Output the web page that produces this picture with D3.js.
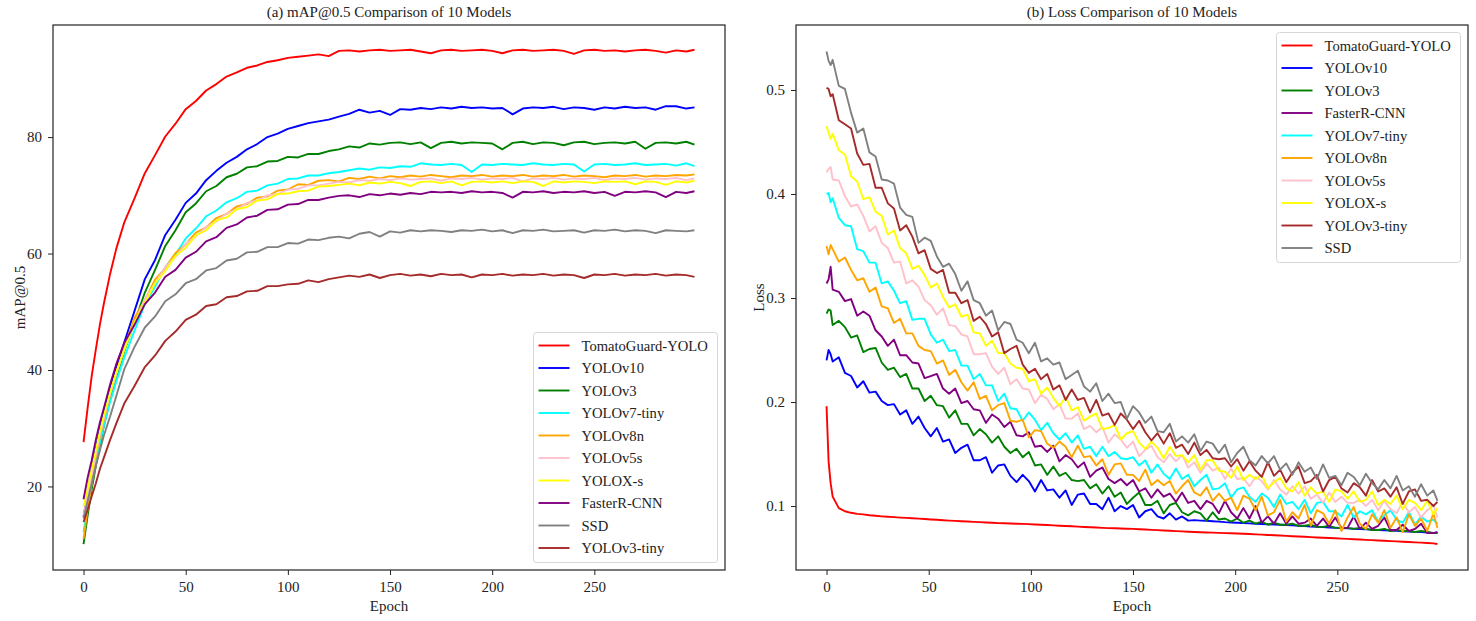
<!DOCTYPE html>
<html>
<head>
<meta charset="utf-8">
<title>mAP@0.5 and Loss Comparison of 10 Models</title>
<script src="https://d3js.org/d3.v7.min.js" charset="utf-8"></script>
<style>
  body { margin: 0; background: #fff; }
  svg { display: block; font-family: "Liberation Serif", "Times New Roman", serif; }
  .tick text { font-family: "Liberation Serif", "Times New Roman", serif; font-size: 15px; fill: #222; }
  .tick line { stroke: #222; }
  .axis-label, .panel-title { font-size: 15px; fill: #222; }
  .legend text { font-size: 14.6px; fill: #222; }
</style>
</head>
<body>
<svg id="chart" width="1476" height="621"></svg>
<script>
// sampled epochs (x values) for each panel
const mapEpochs = [0, 2, 4, 6, 8, 10, 13, 16,
  20, 25, 30, 35, 40, 45, 50, 55, 60, 65,
  70, 75, 80, 85, 90, 95, 100, 105, 110, 115,
  120, 125, 130, 135, 140, 145, 150, 155, 160, 165,
  170, 175, 180, 185, 190, 195, 200, 205, 210, 215,
  220, 225, 230, 235, 240, 245, 250, 255, 260, 265,
  270, 275, 280, 285, 290, 295, 299];
const lossEpochs = [0, 1, 2, 3, 6, 9, 12, 15, 18, 21,
  24, 27, 30, 33, 36, 39, 42, 45, 48, 51,
  54, 57, 60, 63, 66, 69, 72, 75, 78, 81,
  84, 87, 90, 93, 96, 99, 102, 105, 108, 111,
  114, 117, 120, 123, 126, 129, 132, 135, 138, 141,
  144, 147, 150, 153, 156, 159, 162, 165, 168, 171,
  174, 177, 180, 183, 186, 189, 192, 195, 198, 201,
  204, 207, 210, 213, 216, 219, 222, 225, 228, 231,
  234, 237, 240, 243, 246, 249, 252, 255, 258, 261,
  264, 267, 270, 273, 276, 279, 282, 285, 288, 291,
  294, 297, 299];

const mapModels = ["TomatoGuard-YOLO", "YOLOv10", "YOLOv3", "YOLOv7-tiny", "YOLOv8n",
  "YOLOv5s", "YOLOX-s", "FasterR-CNN", "SSD", "YOLOv3-tiny"];
const lossModels = ["TomatoGuard-YOLO", "YOLOv10", "YOLOv3", "FasterR-CNN", "YOLOv7-tiny",
  "YOLOv8n", "YOLOv5s", "YOLOX-s", "YOLOv3-tiny", "SSD"];

const epochTicks = [0, 50, 100, 150, 200, 250];
const mapTicks = [20, 40, 60, 80];
const lossTicks = [0.1, 0.2, 0.3, 0.4, 0.5];

// ---- mAP@0.5 ----
const mapTomatoGuard = [27.6, 33.5, 39.0, 43.5, 47.8, 51.5, 56.5, 60.8,
  65.4, 69.5, 73.8, 76.9, 80.1, 82.3, 84.8, 86.2, 88.0, 89.1,
  90.4, 91.1, 91.9, 92.3, 92.9, 93.2, 93.6, 93.8, 94.0, 94.2,
  93.9, 94.8, 94.9, 94.7, 94.9, 95.0, 94.8, 94.9, 95.0, 94.7,
  94.4, 94.9, 95.0, 94.8, 94.9, 95.0, 94.8, 94.4, 94.9, 95.0,
  94.8, 94.9, 95.0, 94.8, 94.3, 94.9, 95.0, 94.8, 94.9, 94.7,
  94.9, 95.0, 94.8, 94.5, 94.9, 94.7, 95.0];
const mapYOLOv10 = [14.8, 19.0, 23.0, 26.5, 30.0, 32.8, 37.0, 40.5,
  44.8, 50.2, 55.6, 58.9, 63.2, 65.8, 68.7, 70.3, 72.6, 74.2,
  75.6, 76.6, 77.9, 78.8, 80.0, 80.6, 81.4, 81.9, 82.4, 82.7,
  83.0, 83.5, 84.0, 84.7, 84.2, 84.5, 83.8, 84.8, 84.7, 85.0,
  84.8, 85.1, 84.9, 85.2, 85.0, 85.1, 84.9, 85.0, 83.9, 84.9,
  85.1, 85.0, 85.2, 84.8, 85.1, 85.0, 84.7, 85.1, 84.9, 85.2,
  85.0, 85.1, 84.7, 85.3, 85.3, 84.9, 85.1];
const mapYOLOv3 = [10.1, 15.0, 19.5, 23.5, 27.0, 30.5, 35.0, 38.8,
  43.3, 48.2, 53.3, 57.2, 61.3, 64.0, 67.1, 68.6, 70.7, 71.6,
  73.1, 73.7, 74.8, 75.0, 75.8, 75.9, 76.6, 76.5, 77.1, 77.1,
  77.6, 77.9, 78.4, 78.2, 78.9, 78.7, 79.0, 79.1, 78.8, 79.1,
  78.1, 79.0, 79.2, 78.9, 79.1, 79.0, 78.9, 77.9, 79.0, 79.2,
  78.8, 79.1, 79.0, 78.6, 79.1, 79.2, 78.8, 79.0, 79.1, 78.9,
  79.2, 78.0, 79.0, 79.1, 78.9, 79.2, 78.7];
const mapYOLOv7tiny = [12.2, 16.5, 20.5, 24.0, 27.5, 30.5, 34.5, 38.0,
  42.2, 46.8, 51.3, 54.3, 57.7, 59.8, 62.6, 64.3, 66.4, 67.4,
  68.8, 69.5, 70.6, 70.8, 71.7, 72.0, 72.8, 72.9, 73.4, 73.4,
  73.8, 74.0, 74.3, 74.6, 74.4, 74.8, 74.7, 75.0, 74.9, 75.5,
  75.3, 75.2, 75.4, 75.2, 74.0, 75.3, 75.2, 75.4, 75.3, 75.2,
  75.5, 75.3, 75.2, 75.4, 75.3, 74.1, 75.3, 75.4, 75.2, 75.3,
  75.5, 75.2, 75.3, 75.4, 75.1, 75.5, 75.0];
const mapYOLOv8n = [11.0, 16.0, 20.5, 25.0, 28.5, 31.5, 35.8, 39.5,
  43.8, 49.0, 52.0, 55.5, 57.5, 60.1, 61.6, 63.6, 64.5, 66.1,
  66.8, 68.1, 68.5, 69.6, 69.8, 70.8, 71.0, 71.9, 71.8, 72.5,
  72.6, 72.4, 73.0, 72.8, 73.2, 72.9, 73.3, 73.1, 73.4, 73.2,
  73.5, 73.3, 73.1, 73.4, 73.3, 73.5, 73.2, 73.4, 73.3, 73.5,
  73.2, 73.4, 73.3, 73.5, 73.2, 73.4, 73.3, 73.1, 73.4, 73.3,
  73.5, 73.2, 73.4, 73.3, 73.5, 73.4, 73.6];
const mapYOLOv5s = [15.0, 18.5, 22.0, 25.5, 28.8, 31.8, 35.8, 39.2,
  43.7, 48.0, 52.2, 54.9, 57.7, 59.4, 61.7, 62.9, 64.6, 65.5,
  66.9, 67.6, 68.7, 69.1, 70.0, 70.2, 71.0, 71.1, 71.7, 71.7,
  72.0, 72.3, 72.2, 72.6, 72.5, 72.8, 72.6, 72.9, 72.7, 72.8,
  72.9, 72.5, 72.9, 72.8, 73.0, 72.7, 72.9, 72.8, 73.0, 72.4,
  72.9, 72.8, 73.0, 72.7, 72.9, 72.8, 73.0, 72.6, 72.9, 72.8,
  73.0, 72.7, 72.9, 72.8, 73.0, 72.6, 72.9];
const mapYOLOXs = [16.6, 19.5, 23.0, 26.2, 29.5, 32.3, 36.2, 39.6,
  43.5, 48.2, 51.5, 54.9, 57.0, 59.6, 61.0, 63.1, 64.0, 65.7,
  66.2, 67.6, 68.0, 69.1, 69.3, 70.2, 70.3, 70.7, 70.8, 71.5,
  71.6, 71.8, 72.0, 71.7, 72.2, 72.0, 72.3, 72.1, 71.6, 72.3,
  72.4, 72.1, 72.4, 71.7, 72.3, 72.4, 72.2, 72.4, 72.1, 72.4,
  72.3, 71.6, 72.4, 72.2, 72.4, 72.3, 72.1, 72.4, 72.3, 72.4,
  71.9, 72.4, 72.3, 71.8, 72.4, 72.2, 72.5];
const mapFasterRCNN = [17.8, 21.5, 24.5, 28.0, 31.0, 33.5, 37.5, 41.0,
  44.7, 47.8, 51.3, 53.3, 56.0, 57.2, 59.3, 60.3, 62.1, 62.8,
  64.4, 65.0, 66.2, 66.5, 67.5, 67.6, 68.4, 68.5, 69.2, 69.2,
  69.6, 69.9, 70.0, 69.7, 70.2, 70.0, 70.3, 70.1, 70.4, 70.2,
  70.6, 70.5, 70.6, 70.4, 70.7, 70.5, 70.6, 70.4, 69.6, 70.6,
  70.5, 70.7, 70.4, 70.6, 70.5, 70.7, 70.4, 70.6, 69.9, 70.6,
  70.5, 70.7, 70.5, 69.7, 70.6, 70.4, 70.7];
const mapSSD = [14.5, 17.5, 20.5, 23.5, 26.2, 28.8, 32.0, 35.5,
  40.2, 44.0, 47.3, 49.2, 51.8, 53.0, 54.9, 55.6, 57.1, 57.5,
  58.8, 59.1, 60.2, 60.3, 61.1, 61.1, 61.8, 61.7, 62.4, 62.3,
  62.7, 62.9, 62.6, 63.4, 63.7, 62.9, 63.8, 63.6, 64.0, 63.8,
  64.0, 63.9, 63.7, 64.0, 63.9, 64.1, 63.8, 64.0, 63.5, 64.0,
  63.9, 64.1, 63.8, 63.9, 64.0, 63.6, 64.0, 63.9, 64.1, 63.8,
  64.0, 63.9, 63.5, 64.0, 63.9, 63.8, 64.0];
const mapYOLOv3tiny = [13.9, 16.0, 18.3, 20.5, 23.0, 25.0, 28.0, 30.8,
  34.3, 37.3, 40.5, 42.5, 45.0, 46.6, 48.6, 49.5, 51.0, 51.3,
  52.5, 52.7, 53.5, 53.6, 54.4, 54.4, 54.7, 54.8, 55.4, 55.1,
  55.6, 55.9, 56.2, 56.0, 56.4, 55.8, 56.3, 56.5, 56.2, 56.4,
  56.1, 56.5, 56.3, 56.4, 55.9, 56.4, 56.3, 56.5, 56.2, 56.4,
  56.3, 56.5, 56.2, 56.4, 56.3, 55.8, 56.4, 56.3, 56.5, 56.2,
  56.4, 56.3, 56.5, 56.2, 56.4, 56.3, 56.0];

// ---- Loss ----
const lossTomatoGuard = [0.196, 0.143, 0.122, 0.109, 0.098, 0.095, 0.0935, 0.0925, 0.092, 0.0912,
  0.0906, 0.0901, 0.0897, 0.0893, 0.0889, 0.0886, 0.0882, 0.0879, 0.0875, 0.0871,
  0.0868, 0.0864, 0.086, 0.0857, 0.0854, 0.0851, 0.0848, 0.0845, 0.0842, 0.0839,
  0.0836, 0.0834, 0.0832, 0.083, 0.0828, 0.0826, 0.0823, 0.082, 0.0817, 0.0814,
  0.0811, 0.0808, 0.0805, 0.0802, 0.0799, 0.0796, 0.0793, 0.079, 0.0788, 0.0786,
  0.0784, 0.0782, 0.078, 0.0777, 0.0774, 0.0771, 0.0768, 0.0765, 0.0762, 0.0759,
  0.0756, 0.0753, 0.075, 0.0748, 0.0746, 0.0744, 0.0742, 0.074, 0.0738, 0.0736,
  0.0734, 0.0731, 0.0728, 0.0725, 0.0722, 0.0719, 0.0716, 0.0713, 0.071, 0.0707,
  0.0704, 0.0701, 0.0698, 0.0695, 0.0692, 0.069, 0.0687, 0.0684, 0.0681, 0.0678,
  0.0675, 0.0672, 0.0669, 0.0666, 0.0663, 0.066, 0.0657, 0.0654, 0.0651, 0.0648,
  0.0645, 0.0641, 0.0635];
const lossYOLOv10 = [0.240, 0.250, 0.246, 0.239, 0.243, 0.228, 0.225, 0.214, 0.220, 0.209,
  0.210, 0.201, 0.197, 0.198, 0.188, 0.192, 0.179, 0.186, 0.175, 0.167,
  0.175, 0.162, 0.164, 0.151, 0.156, 0.159, 0.144, 0.144, 0.147, 0.132,
  0.139, 0.140, 0.129, 0.123, 0.130, 0.124, 0.114, 0.125, 0.115, 0.116,
  0.108, 0.115, 0.101, 0.111, 0.112, 0.102, 0.102, 0.097, 0.108, 0.095,
  0.100, 0.097, 0.101, 0.089, 0.095, 0.097, 0.090, 0.088, 0.093, 0.087,
  0.090, 0.086, 0.0865, 0.086, 0.0858, 0.0854, 0.085, 0.0845, 0.0842, 0.084,
  0.0837, 0.0833, 0.083, 0.0827, 0.0825, 0.0822, 0.082, 0.0817, 0.0814, 0.0811,
  0.0808, 0.0803, 0.080, 0.0797, 0.0794, 0.0791, 0.0788, 0.0785, 0.0782, 0.0779,
  0.0776, 0.0773, 0.077, 0.0767, 0.0764, 0.0761, 0.0758, 0.0755, 0.0752, 0.0749,
  0.0746, 0.0742, 0.074];
const lossYOLOv3 = [0.285, 0.289, 0.288, 0.274, 0.278, 0.272, 0.262, 0.264, 0.248, 0.251,
  0.252, 0.238, 0.231, 0.233, 0.224, 0.227, 0.213, 0.213, 0.201, 0.206,
  0.197, 0.196, 0.185, 0.192, 0.179, 0.179, 0.168, 0.174, 0.169, 0.161,
  0.167, 0.157, 0.151, 0.155, 0.147, 0.152, 0.139, 0.140, 0.130, 0.138,
  0.129, 0.132, 0.125, 0.124, 0.125, 0.117, 0.121, 0.112, 0.119, 0.109,
  0.113, 0.102, 0.108, 0.113, 0.101, 0.101, 0.105, 0.093, 0.101, 0.103,
  0.094, 0.091, 0.095, 0.093, 0.086, 0.094, 0.087, 0.088, 0.085, 0.088,
  0.084, 0.086, 0.083, 0.085, 0.082, 0.084, 0.082, 0.082, 0.083, 0.081,
  0.081, 0.082, 0.080, 0.080, 0.081, 0.079, 0.079, 0.079, 0.078, 0.079,
  0.078, 0.077, 0.077, 0.078, 0.076, 0.077, 0.076, 0.076, 0.075, 0.076,
  0.075, 0.074, 0.074];
const lossFasterRCNN = [0.314, 0.318, 0.330, 0.308, 0.306, 0.297, 0.299, 0.283, 0.287, 0.283,
  0.269, 0.263, 0.254, 0.260, 0.245, 0.245, 0.238, 0.237, 0.223, 0.225,
  0.227, 0.213, 0.208, 0.213, 0.199, 0.201, 0.193, 0.192, 0.180, 0.188,
  0.184, 0.176, 0.181, 0.168, 0.167, 0.171, 0.157, 0.158, 0.152, 0.158,
  0.143, 0.149, 0.145, 0.137, 0.142, 0.128, 0.134, 0.137, 0.126, 0.122,
  0.126, 0.120, 0.125, 0.114, 0.117, 0.108, 0.116, 0.109, 0.112, 0.104,
  0.113, 0.103, 0.105, 0.097, 0.105, 0.102, 0.093, 0.105, 0.094, 0.088,
  0.098, 0.088, 0.100, 0.084, 0.090, 0.083, 0.093, 0.083, 0.090, 0.083,
  0.084, 0.088, 0.081, 0.088, 0.080, 0.089, 0.079, 0.079, 0.090, 0.078,
  0.084, 0.078, 0.081, 0.089, 0.077, 0.077, 0.082, 0.076, 0.078, 0.083,
  0.074, 0.074, 0.075];
const lossYOLOv7tiny = [0.400, 0.401, 0.392, 0.396, 0.377, 0.370, 0.369, 0.347, 0.345, 0.334,
  0.334, 0.314, 0.316, 0.307, 0.295, 0.297, 0.279, 0.280, 0.280, 0.265,
  0.257, 0.260, 0.249, 0.250, 0.235, 0.235, 0.222, 0.227, 0.216, 0.216,
  0.201, 0.208, 0.194, 0.193, 0.182, 0.190, 0.183, 0.173, 0.180, 0.170,
  0.164, 0.170, 0.161, 0.168, 0.155, 0.157, 0.148, 0.157, 0.148, 0.152,
  0.146, 0.145, 0.147, 0.139, 0.144, 0.132, 0.140, 0.131, 0.126, 0.136,
  0.126, 0.130, 0.119, 0.125, 0.130, 0.116, 0.117, 0.122, 0.108, 0.116,
  0.118, 0.109, 0.104, 0.112, 0.108, 0.099, 0.111, 0.102, 0.104, 0.097,
  0.106, 0.093, 0.103, 0.104, 0.095, 0.095, 0.090, 0.101, 0.089, 0.095,
  0.092, 0.096, 0.085, 0.091, 0.096, 0.087, 0.084, 0.094, 0.082, 0.090,
  0.085, 0.087, 0.083];
const lossYOLOv8n = [0.350, 0.342, 0.351, 0.347, 0.335, 0.339, 0.327, 0.317, 0.319, 0.306,
  0.310, 0.292, 0.290, 0.276, 0.280, 0.266, 0.266, 0.254, 0.250, 0.249,
  0.237, 0.240, 0.226, 0.231, 0.219, 0.211, 0.219, 0.203, 0.206, 0.192,
  0.197, 0.199, 0.182, 0.181, 0.183, 0.166, 0.173, 0.172, 0.160, 0.156,
  0.162, 0.157, 0.147, 0.158, 0.147, 0.148, 0.139, 0.145, 0.130, 0.140,
  0.141, 0.130, 0.130, 0.124, 0.135, 0.120, 0.125, 0.120, 0.124, 0.112,
  0.119, 0.125, 0.113, 0.110, 0.118, 0.105, 0.112, 0.105, 0.108, 0.096,
  0.110, 0.107, 0.096, 0.109, 0.091, 0.094, 0.106, 0.085, 0.094, 0.088,
  0.101, 0.081, 0.096, 0.093, 0.083, 0.096, 0.076, 0.089, 0.099, 0.083,
  0.078, 0.092, 0.084, 0.096, 0.079, 0.089, 0.075, 0.092, 0.081, 0.088,
  0.076, 0.093, 0.079];
const lossYOLOv5s = [0.421, 0.424, 0.426, 0.414, 0.413, 0.398, 0.388, 0.390, 0.379, 0.364,
  0.369, 0.353, 0.348, 0.334, 0.335, 0.314, 0.317, 0.311, 0.298, 0.293,
  0.284, 0.290, 0.274, 0.273, 0.265, 0.263, 0.246, 0.246, 0.247, 0.234,
  0.227, 0.233, 0.217, 0.222, 0.213, 0.212, 0.199, 0.207, 0.203, 0.193,
  0.198, 0.184, 0.184, 0.189, 0.174, 0.177, 0.171, 0.176, 0.161, 0.169,
  0.164, 0.156, 0.162, 0.148, 0.154, 0.158, 0.147, 0.142, 0.150, 0.143,
  0.149, 0.137, 0.142, 0.132, 0.141, 0.134, 0.137, 0.126, 0.136, 0.126,
  0.127, 0.119, 0.128, 0.124, 0.116, 0.125, 0.116, 0.111, 0.119, 0.112,
  0.119, 0.107, 0.111, 0.103, 0.113, 0.104, 0.109, 0.103, 0.103, 0.106,
  0.100, 0.106, 0.096, 0.105, 0.097, 0.093, 0.104, 0.094, 0.099, 0.089,
  0.096, 0.101, 0.089];
const lossYOLOXs = [0.465, 0.459, 0.453, 0.458, 0.442, 0.438, 0.417, 0.412, 0.395, 0.397,
  0.383, 0.379, 0.361, 0.365, 0.348, 0.343, 0.328, 0.331, 0.322, 0.310,
  0.314, 0.301, 0.291, 0.294, 0.282, 0.284, 0.267, 0.266, 0.254, 0.259,
  0.247, 0.247, 0.237, 0.233, 0.232, 0.220, 0.222, 0.208, 0.214, 0.204,
  0.196, 0.205, 0.192, 0.195, 0.182, 0.186, 0.189, 0.174, 0.175, 0.178,
  0.164, 0.170, 0.172, 0.161, 0.155, 0.162, 0.156, 0.146, 0.157, 0.148,
  0.149, 0.142, 0.149, 0.135, 0.144, 0.144, 0.134, 0.133, 0.127, 0.138,
  0.125, 0.130, 0.126, 0.130, 0.117, 0.123, 0.127, 0.117, 0.114, 0.123,
  0.110, 0.118, 0.112, 0.114, 0.104, 0.116, 0.114, 0.107, 0.114, 0.104,
  0.106, 0.114, 0.101, 0.106, 0.102, 0.110, 0.097, 0.106, 0.103, 0.096,
  0.105, 0.092, 0.098];
const lossYOLOv3tiny = [0.502, 0.501, 0.494, 0.496, 0.471, 0.467, 0.463, 0.439, 0.428, 0.429,
  0.406, 0.406, 0.391, 0.386, 0.365, 0.370, 0.359, 0.343, 0.346, 0.328,
  0.324, 0.327, 0.305, 0.305, 0.295, 0.298, 0.278, 0.282, 0.275, 0.263,
  0.267, 0.247, 0.251, 0.254, 0.236, 0.228, 0.232, 0.222, 0.227, 0.212,
  0.216, 0.202, 0.212, 0.202, 0.204, 0.190, 0.202, 0.187, 0.189, 0.178,
  0.189, 0.183, 0.174, 0.182, 0.171, 0.163, 0.170, 0.160, 0.170, 0.156,
  0.159, 0.150, 0.161, 0.149, 0.154, 0.146, 0.145, 0.146, 0.138, 0.145,
  0.134, 0.143, 0.134, 0.128, 0.142, 0.129, 0.135, 0.123, 0.132, 0.138,
  0.122, 0.124, 0.130, 0.114, 0.125, 0.128, 0.117, 0.113, 0.122, 0.118,
  0.110, 0.125, 0.114, 0.117, 0.109, 0.118, 0.102, 0.114, 0.116, 0.105,
  0.106, 0.100, 0.104];
const lossSSD = [0.537, 0.528, 0.524, 0.529, 0.504, 0.501, 0.478, 0.459, 0.463, 0.440,
  0.436, 0.414, 0.413, 0.410, 0.387, 0.380, 0.378, 0.353, 0.358, 0.355,
  0.340, 0.330, 0.333, 0.323, 0.307, 0.316, 0.298, 0.295, 0.283, 0.288,
  0.269, 0.277, 0.275, 0.260, 0.257, 0.247, 0.257, 0.239, 0.242, 0.236,
  0.238, 0.222, 0.226, 0.230, 0.215, 0.210, 0.218, 0.201, 0.208, 0.199,
  0.200, 0.184, 0.196, 0.190, 0.180, 0.186, 0.172, 0.171, 0.179, 0.162,
  0.167, 0.161, 0.169, 0.153, 0.162, 0.160, 0.151, 0.159, 0.142, 0.151,
  0.157, 0.144, 0.139, 0.148, 0.141, 0.148, 0.135, 0.141, 0.130, 0.142,
  0.133, 0.137, 0.126, 0.140, 0.127, 0.129, 0.120, 0.132, 0.128, 0.120,
  0.131, 0.122, 0.116, 0.125, 0.117, 0.129, 0.115, 0.119, 0.109, 0.121,
  0.110, 0.115, 0.105];

const colors = {
  "TomatoGuard-YOLO": "red",
  "YOLOv10": "blue",
  "YOLOv3": "green",
  "YOLOv7-tiny": "cyan",
  "YOLOv8n": "orange",
  "YOLOv5s": "pink",
  "YOLOX-s": "yellow",
  "FasterR-CNN": "purple",
  "SSD": "gray",
  "YOLOv3-tiny": "brown"
};

const mapSeries = {
  "TomatoGuard-YOLO": mapTomatoGuard, "YOLOv10": mapYOLOv10, "YOLOv3": mapYOLOv3,
  "YOLOv7-tiny": mapYOLOv7tiny, "YOLOv8n": mapYOLOv8n, "YOLOv5s": mapYOLOv5s,
  "YOLOX-s": mapYOLOXs, "FasterR-CNN": mapFasterRCNN, "SSD": mapSSD, "YOLOv3-tiny": mapYOLOv3tiny
};
const lossSeries = {
  "TomatoGuard-YOLO": lossTomatoGuard, "YOLOv10": lossYOLOv10, "YOLOv3": lossYOLOv3,
  "FasterR-CNN": lossFasterRCNN, "YOLOv7-tiny": lossYOLOv7tiny, "YOLOv8n": lossYOLOv8n,
  "YOLOv5s": lossYOLOv5s, "YOLOX-s": lossYOLOXs, "YOLOv3-tiny": lossYOLOv3tiny, "SSD": lossSSD
};

// sanity check: every series must match its epochs
Object.entries(mapSeries).forEach(([k, v]) => {
  if (v.length !== mapEpochs.length) throw new Error("map length " + k + " " + v.length);
});
Object.entries(lossSeries).forEach(([k, v]) => {
  if (v.length !== lossEpochs.length) throw new Error("loss length " + k + " " + v.length);
});

const svg = d3.select("#chart");

function drawPanel(cfg) {
  const x = d3.scaleLinear().domain([-14.95, 313.95]).range([cfg.left, cfg.right]);
  const y = d3.scaleLinear().domain(cfg.yDomain).range([cfg.bottom, cfg.top]);
  const g = svg.append("g");

  const line = d3.line()
    .x((d) => x(d.epoch))
    .y((d) => y(d.value));

  cfg.models.forEach((m) => {
    const pts = cfg.epochs.map((e, i) => ({ epoch: e, value: cfg.series[m][i] }));
    g.append("path")
      .datum(pts)
      .attr("fill", "none")
      .attr("stroke", colors[m])
      .attr("stroke-width", 1.9)
      .attr("stroke-linejoin", "round")
      .attr("d", line);
  });

  g.append("g")
    .attr("transform", `translate(0, ${cfg.bottom})`)
    .call(d3.axisBottom(x).tickValues(epochTicks).tickSize(5).tickSizeOuter(0).tickPadding(6))
    .call((a) => a.select(".domain").remove())
    .attr("font-family", null)
    .attr("font-size", null);

  g.append("g")
    .attr("transform", `translate(${cfg.left}, 0)`)
    .call(d3.axisLeft(y).tickValues(cfg.yTicks).tickFormat(cfg.yFormat)
      .tickSize(5).tickSizeOuter(0).tickPadding(6))
    .call((a) => a.select(".domain").remove())
    .attr("font-family", null)
    .attr("font-size", null);

  g.append("rect")
    .attr("x", cfg.left)
    .attr("y", cfg.top)
    .attr("width", cfg.right - cfg.left)
    .attr("height", cfg.bottom - cfg.top)
    .attr("fill", "none")
    .attr("stroke", "#222")
    .attr("stroke-width", 1.2);

  const cx = (cfg.left + cfg.right) / 2;
  g.append("text")
    .attr("class", "panel-title")
    .attr("x", cx)
    .attr("y", 17)
    .attr("text-anchor", "middle")
    .text(cfg.title);

  g.append("text")
    .attr("class", "axis-label")
    .attr("x", cx)
    .attr("y", 611)
    .attr("text-anchor", "middle")
    .text("Epoch");

  g.append("text")
    .attr("class", "axis-label")
    .attr("transform", `translate(${cfg.yLabelX}, ${(cfg.top + cfg.bottom) / 2}) rotate(-90)`)
    .attr("text-anchor", "middle")
    .text(cfg.yLabel);

  // legend
  const lw = 184, lh = 230;
  const lx = cfg.right - 7.5 - lw;
  const ly = cfg.legendLoc === "lower" ? cfg.bottom - 7.5 - lh : cfg.top + 7.5;
  const legend = g.append("g").attr("class", "legend")
    .attr("transform", `translate(${lx}, ${ly})`);
  legend.append("rect")
    .attr("width", lw)
    .attr("height", lh)
    .attr("rx", 3)
    .attr("fill", "#fff")
    .attr("fill-opacity", 0.8)
    .attr("stroke", "#d6d6d6");
  cfg.models.forEach((m, i) => {
    const row = legend.append("g").attr("transform", `translate(0, ${13 + i * 22.5})`);
    row.append("line")
      .attr("x1", 5).attr("x2", 36)
      .attr("stroke", colors[m])
      .attr("stroke-width", 1.9);
    row.append("text")
      .attr("x", 48)
      .attr("dy", "0.35em")
      .text(m);
  });
}

drawPanel({
  left: 53, right: 725, top: 25, bottom: 570,
  yDomain: [5.65, 99.25],
  epochs: mapEpochs,
  models: mapModels,
  series: mapSeries,
  yTicks: mapTicks,
  yFormat: d3.format("d"),
  title: "(a) mAP@0.5 Comparison of 10 Models",
  yLabel: "mAP@0.5",
  yLabelX: 25,
  legendLoc: "lower"
});

drawPanel({
  left: 796, right: 1468, top: 25, bottom: 570,
  yDomain: [0.0385, 0.5625],
  epochs: lossEpochs,
  models: lossModels,
  series: lossSeries,
  yTicks: lossTicks,
  yFormat: d3.format(".1f"),
  title: "(b) Loss Comparison of 10 Models",
  yLabel: "Loss",
  yLabelX: 764,
  legendLoc: "upper"
});
</script>
</body>
</html>
